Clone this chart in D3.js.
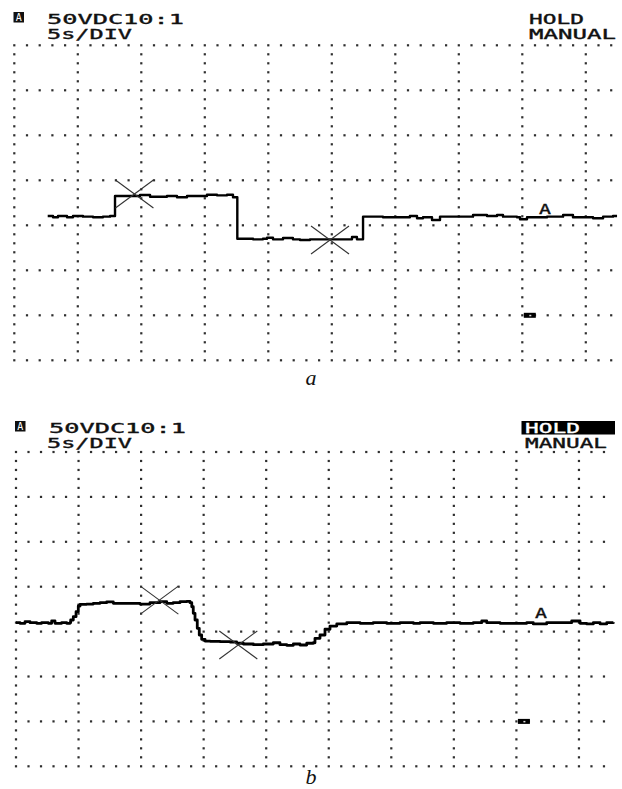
<!DOCTYPE html>
<html lang="en">
<head>
<meta charset="UTF-8">
<title>Scope traces a / b</title>
<script src="https://d3js.org/d3.v7.min.js"></script>
<style>
  body { margin: 0; background: #fff; }
  svg { display: block; }
  .lcd { font-family: "DejaVu Sans Mono", monospace; font-size: 13.5px; fill: #111; stroke: #111; stroke-width: 0.35px; }
  .cap { font-family: "Liberation Serif", "Times New Roman", serif; font-style: italic; font-size: 22px; fill: #111; }
</style>
</head>
<body>
<svg id="chart" width="622" height="789"></svg>
<script>
// time in s (5 s/div), level in V (50 V/div)
const timeTicks = d3.range(0, 48, 1)      // dots along the horizontal lines
const levelTicks = d3.range(0, 351, 10)   // dots along the vertical lines
const timeDivs = d3.range(0, 46, 5)
const levelDivs = d3.range(0, 351, 50)

const headerLeft = ["50VDC10:1", "5s/DIV"]
const headerRight = ["HOLD", "MANUAL"]
const panelNames = ["a", "b"]

const traceA = [
  [2.63,160.3],[3.05,158.9],[3.44,160.3],[4.15,158.9],[4.62,160.3],[5.41,159.6],[6.20,158.9],[6.98,159.6],[7.54,160.3],
  [7.93,182.6],[9.35,182.6],[9.90,183.7],[10.69,181.8],[12.02,182.6],[12.81,181.1],[13.60,182.6],[14.61,182.6],[15.17,184.0],[15.96,183.3],[16.75,184.0],[17.22,181.1],
  [17.56,135.1],[18.80,134.4],[19.58,135.1],[19.90,136.2],[20.37,134.4],[21.16,135.9],[21.94,134.4],[22.50,133.7],[23.28,134.4],[26.59,137.0],[26.98,134.4],
  [27.46,159.6],[29.03,158.9],[31.15,160.3],[31.71,157.8],[32.18,158.9],[32.89,155.9],[33.52,159.6],[36.12,161.4],[37.22,160.3],[38.01,161.4],[38.48,159.6],
  [39.58,158.9],[39.82,156.7],[40.37,158.9],[41.95,159.6],[43.21,161.4],[43.99,158.9],[45.57,157.8],[46.36,159.6],[47.14,160.3],[47.46,160.3]
]
const traceB = [
  [0,159.9],[0.32,159.2],[0.72,161.0],[1.12,159.9],[1.65,159.2],[2.05,159.9],[2.58,159.2],[2.85,161.8],[3.12,159.2],[3.65,159.9],[4.05,159.2],[4.32,159.9],
  [4.37,162.9],[4.58,166.6],[4.80,172.2],[4.98,178.5],[5.12,180.4],[5.65,180.7],[6.18,181.5],[6.72,182.2],[7.25,183.0],[7.78,181.5],[8.85,181.5],[9.91,180.7],
  [10.71,182.2],[11.51,183.3],[12.05,181.5],[12.57,182.2],[13.11,183.3],[13.65,183.7],[13.91,182.2],
  [14.05,177.7],[14.17,170.4],[14.31,162.9],[14.49,153.7],[14.65,146.2],[14.84,141.4],[15.11,139.5],[15.51,139.2],[16.31,138.8],[17.11,138.4],[17.64,137.0],
  [18.17,136.2],[18.97,135.4],[19.77,136.2],[20.57,137.6],[21.10,135.4],[21.64,134.7],[22.17,136.2],[22.70,135.1],[23.24,137.0],[23.77,137.6],
  [23.90,142.5],[24.30,146.2],[24.70,152.6],[25.10,156.2],[25.64,158.5],[26.44,159.9],[27.50,159.2],[28.56,159.9],[29.63,159.2],[30.70,159.9],[31.76,159.2],
  [32.30,159.9],[33.36,159.2],[34.43,159.9],[35.49,159.2],[36.56,159.9],[37.23,161.8],[37.63,159.9],[38.69,159.2],[39.75,159.2],[40.83,159.9],[41.35,158.5],
  [42.42,159.9],[43.49,159.9],[44.42,161.8],[45.09,159.2],[45.62,158.5],[46.15,159.9],[46.69,158.5],[47.22,159.9],[47.75,160.4]
]
const cursorsA = [[9.46,184.8],[24.86,133.7]]
const cursorsB = [[11.46,185.0],[17.77,135.1]]
const markerA = [41.79,162.6]
const markerB = [41.97,164.8]
const zeroLevel = [40,50]

const svg = d3.select("#chart")
svg.append("rect").attr("width", 622).attr("height", 789).attr("fill", "#fff")

const panels = [
  { x0: 14.3, dx: 63.5, y0: 45.3, dy: 45, trace: traceA, cursors: cursorsA, marker: markerA, width: 2.4, inverse: false,
    top: 12, capX: 311, capY: 385 },
  { x0: 16, dx: 62.55, y0: 452, dy: 44.9, trace: traceB, cursors: cursorsB, marker: markerB, width: 2.8, inverse: true,
    top: 421, capX: 311, capY: 784 }
]

function drawPanel(p, i) {
  const g = svg.append("g")
  const x = d3.scaleLinear().domain([0, 45]).range([p.x0, p.x0 + 9 * p.dx])
  const y = d3.scaleLinear().domain([0, 350]).range([p.y0 + 7 * p.dy, p.y0])

  // dotted graticule
  const dots = []
  levelDivs.forEach(v => timeTicks.forEach(t => dots.push([t, v])))
  timeDivs.forEach(t => levelTicks.forEach(v => { if (v % 50) dots.push([t, v]) }))
  g.append("g").selectAll("rect").data(dots).join("rect")
    .attr("x", d => x(d[0]) - 1.1).attr("y", d => y(d[1]) - 1.1)
    .attr("width", 2.2).attr("height", 2.2).attr("fill", "#2e2e2e")

  // trace
  const line = d3.line().x(d => x(d[0])).y(d => y(d[1])).curve(d3.curveStepAfter)
  g.append("path").datum(p.trace)
    .attr("d", line).attr("fill", "none").attr("stroke", "#000")
    .attr("stroke-width", p.width).attr("stroke-linejoin", "round")

  // cursors
  const cur = g.append("g").attr("stroke", "#333").attr("stroke-width", 1.1)
  p.cursors.forEach(c => {
    const cx = x(c[0]), cy = y(c[1])
    cur.append("line").attr("x1", cx - 19).attr("y1", cy - 14).attr("x2", cx + 19).attr("y2", cy + 14)
    cur.append("line").attr("x1", cx - 19).attr("y1", cy + 14).attr("x2", cx + 19).attr("y2", cy - 14)
  })

  // channel marker
  g.append("text").attr("class", "lcd")
    .attr("x", x(p.marker[0])).attr("y", y(p.marker[1]))
    .attr("text-anchor", "middle").style("font-size", "14px")
    .attr("textLength", 12).attr("lengthAdjust", "spacingAndGlyphs").text("A")

  // zero level marker
  g.append("rect").attr("x", x(zeroLevel[0]) + 1.5).attr("y", y(zeroLevel[1]) - 2.5)
    .attr("width", 12).attr("height", 5).attr("fill", "#000")
  g.append("rect").attr("x", x(zeroLevel[0]) + 7).attr("y", y(zeroLevel[1]) - 0.5)
    .attr("width", 2).attr("height", 1.5).attr("fill", "#ddd")

  // header
  const hx = i ? 15 : 13.5
  g.append("rect").attr("x", hx).attr("y", p.top).attr("width", 10.5).attr("height", 10.5).attr("fill", "#111")
  g.append("text").attr("class", "lcd").attr("x", hx + 5.25).attr("y", p.top + 9)
    .attr("text-anchor", "middle").style("font-size", "10px")
    .style("fill", "#fff").style("stroke", "none").text("A")
  g.append("text").attr("class", "lcd").attr("x", i ? 49 : 47).attr("y", p.top + 12)
    .attr("textLength", 137).attr("lengthAdjust", "spacingAndGlyphs").text(headerLeft[0])
  g.append("text").attr("class", "lcd").attr("x", 47).attr("y", p.top + 26.5)
    .attr("textLength", 85).attr("lengthAdjust", "spacingAndGlyphs").text(headerLeft[1])

  const rx = i ? 525 : 529
  if (p.inverse) {
    g.append("rect").attr("x", 521.5).attr("y", p.top).attr("width", 93.5).attr("height", 13.5).attr("fill", "#000")
  }
  g.append("text").attr("class", "lcd").attr("x", rx).attr("y", p.top + 12)
    .attr("textLength", 55).attr("lengthAdjust", "spacingAndGlyphs")
    .style("fill", p.inverse ? "#fff" : "#111").style("stroke", p.inverse ? "#fff" : "#111")
    .text(headerRight[0])
  g.append("text").attr("class", "lcd").attr("x", rx).attr("y", p.top + 26.5)
    .attr("textLength", i ? 82 : 87).attr("lengthAdjust", "spacingAndGlyphs").text(headerRight[1])

  // caption
  svg.append("text").attr("class", "cap").attr("x", p.capX).attr("y", p.capY)
    .attr("text-anchor", "middle").text(panelNames[i])
}

panels.forEach(drawPanel)
</script>
</body>
</html>
